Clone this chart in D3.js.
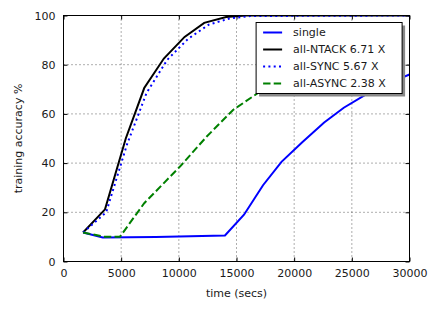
<!DOCTYPE html>
<html>
<head>
<meta charset="utf-8">
<script src="https://cdn.jsdelivr.net/npm/d3@7"></script>
<style>
  body { margin: 0; background: #fff; }
  text { font-family: "DejaVu Sans", sans-serif; fill: #1a1a1a; }
</style>
</head>
<body>
<div id="chart"></div>
<script>
// Data (time in secs, accuracy in %)
const singleData = [
  [1700, 11.8], [3400, 9.8], [8000, 10.0], [14000, 10.6], [15650, 19],
  [17300, 31], [18900, 40.5], [20700, 48.5], [22600, 56.5], [24300, 62.5],
  [26200, 67.8], [28200, 72.5], [30000, 76]
];
const ntackData = [
  [1700, 11.8], [3600, 21.2], [5400, 50], [7000, 70.5], [8700, 82.5],
  [10500, 91.3], [12200, 97], [14100, 99.4], [15800, 100], [30000, 100]
];
const syncData = [
  [1700, 11.8], [3700, 20], [5500, 47.5], [7200, 68.5], [9000, 82],
  [10800, 90.5], [12600, 96.3], [14400, 98.8], [16200, 99.8], [30000, 100]
];
// the rest of this run is hidden behind the legend
const asyncData = [
  [1700, 11.8], [3500, 10.1], [4900, 10.1], [7000, 23.7], [10100, 38.6],
  [12400, 50.7], [14700, 61.6], [16800, 68.3], [18800, 76], [20800, 83.5],
  [22800, 89]
];

const series = [
  { label: "single",           data: singleData, color: "#0000ff", dash: null },
  { label: "all-NTACK 6.71 X", data: ntackData,  color: "#000000", dash: null },
  { label: "all-SYNC 5.67 X",  data: syncData,   color: "#0000ff", dash: "2,3.3" },
  { label: "all-ASYNC 2.38 X", data: asyncData,  color: "#008000", dash: "7.4,3.2" }
];

const xTicks = [0, 5000, 10000, 15000, 20000, 25000, 30000];
const yTicks = [0, 20, 40, 60, 80, 100];

const W = 443, H = 309;
const margin = { top: 15.5, right: 33.5, bottom: 47.5, left: 63.5 };
const width  = W - margin.left - margin.right;
const height = H - margin.top - margin.bottom;

const svg = d3.select("#chart").append("svg")
  .attr("width", W)
  .attr("height", H);

const g = svg.append("g")
  .attr("transform", `translate(${margin.left}, ${margin.top})`);

const x = d3.scaleLinear().domain([0, 30000]).range([0, width]);
const y = d3.scaleLinear().domain([0, 100]).range([height, 0]);

// clip like matplotlib does
svg.append("defs").append("clipPath").attr("id", "clip")
  .append("rect").attr("width", width).attr("height", height);

// Grid (dotted)
g.append("g").selectAll("line")
  .data(xTicks.slice(1, -1))
  .enter().append("line")
  .attr("x1", d => x(d)).attr("x2", d => x(d))
  .attr("y1", 0).attr("y2", height)
  .attr("stroke", "#333").attr("stroke-width", 0.8)
  .attr("stroke-dasharray", "1,3");

g.append("g").selectAll("line")
  .data(yTicks.slice(1, -1))
  .enter().append("line")
  .attr("y1", d => y(d)).attr("y2", d => y(d))
  .attr("x1", 0).attr("x2", width)
  .attr("stroke", "#333").attr("stroke-width", 0.8)
  .attr("stroke-dasharray", "1,3");

// Lines
const line = d3.line().x(d => x(d[0])).y(d => y(d[1]));
const plot = g.append("g").attr("clip-path", "url(#clip)");
series.forEach(s => {
  plot.append("path")
    .datum(s.data)
    .attr("fill", "none")
    .attr("stroke", s.color)
    .attr("stroke-width", 2)
    .attr("stroke-dasharray", s.dash)
    .attr("d", line);
});

// Axes with inward ticks on all four sides
const xAxis = d3.axisBottom(x).tickValues(xTicks).tickSizeInner(-4).tickSizeOuter(0).tickPadding(8).tickFormat(d3.format("d"));
const yAxis = d3.axisLeft(y).tickValues(yTicks).tickSizeInner(-4).tickSizeOuter(0).tickPadding(8);

const gx = g.append("g").attr("transform", `translate(0, ${height})`).call(xAxis);
const gy = g.append("g").call(yAxis);
const gxTop = g.append("g").call(d3.axisTop(x).tickValues(xTicks).tickSizeInner(-4).tickSizeOuter(0).tickFormat(""));
const gyRight = g.append("g").attr("transform", `translate(${width}, 0)`)
  .call(d3.axisRight(y).tickValues(yTicks).tickSizeInner(-4).tickSizeOuter(0).tickFormat(""));

[gx, gy, gxTop, gyRight].forEach(a => {
  a.select(".domain").remove();
  a.selectAll(".tick line").attr("stroke", "#000");
  a.selectAll(".tick text").style("font-size", "11px").style("font-family", "DejaVu Sans").attr("fill", "#1a1a1a");
});

// Frame
g.append("rect")
  .attr("width", width).attr("height", height)
  .attr("fill", "none").attr("stroke", "#000").attr("stroke-width", 1);

// Axis labels
g.append("text")
  .attr("x", width / 2)
  .attr("y", height + 35)
  .attr("text-anchor", "middle")
  .style("font-size", "11px")
  .text("time (secs)");

g.append("text")
  .attr("text-anchor", "middle")
  .attr("transform", `translate(${-42}, ${height / 2}) rotate(-90)`)
  .style("font-size", "11px")
  .text("training accuracy %");

// Legend
const lg = g.append("g").attr("transform", `translate(${x(16700)}, 7)`);
const lgW = 146, lgH = 71;
lg.append("rect")
  .attr("x", 3).attr("y", 3)
  .attr("width", lgW).attr("height", lgH)
  .attr("fill", "#888");
lg.append("rect")
  .attr("width", lgW).attr("height", lgH)
  .attr("fill", "#fff").attr("stroke", "#000").attr("stroke-width", 1);

lg.selectAll(".legend-item")
  .data(series)
  .enter()
  .append("g")
  .attr("class", "legend-item")
  .attr("transform", (_, i) => `translate(0, ${10 + i * 17})`)
  .each(function(d) {
    d3.select(this).append("line")
      .attr("x1", 7).attr("x2", 26)
      .attr("stroke", d.color)
      .attr("stroke-width", 2)
      .attr("stroke-dasharray", d.dash);
    d3.select(this).append("text")
      .attr("x", 37)
      .attr("dominant-baseline", "middle")
      .style("font-size", "11px")
      .text(d.label);
  });
</script>
</body>
</html>
